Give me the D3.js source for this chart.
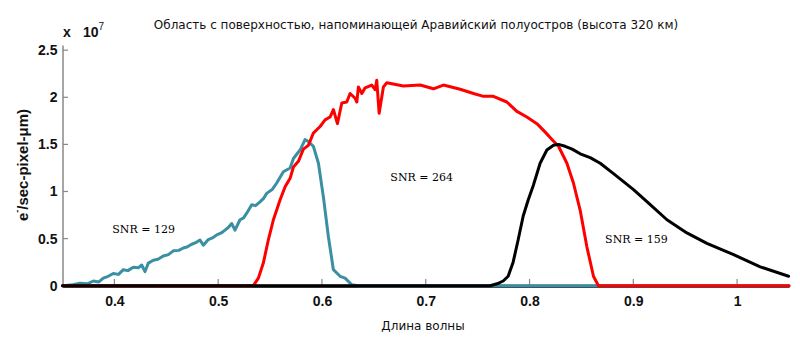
<!DOCTYPE html>
<html><head><meta charset="utf-8">
<script src="https://cdn.jsdelivr.net/npm/d3@7"></script>
<style>html,body{margin:0;padding:0;background:#fff;}svg{display:block;}</style>
</head><body>
<svg id="c" width="800" height="349"></svg>
<script>
// Wavelength (µm) and signal (×1e7 e-/sec-pixel-µm)
const blueX = [0.35,0.3600,0.3669,0.3740,0.3797,0.3850,0.3893,0.3940,0.3989,0.4040,0.4086,0.4130,0.4182,0.4230,0.4263,0.4295,0.4327,0.4375,0.4420,0.4471,0.4520,0.4568,0.4620,0.4664,0.4700,0.4745,0.4790,0.4825,0.4857,0.4905,0.4950,0.4986,0.5030,0.5066,0.5100,0.5130,0.5162,0.5210,0.5245,0.5275,0.5323,0.5360,0.5403,0.5440,0.5467,0.5520,0.5564,0.5628,0.5693,0.5725,0.5789,0.5837,0.5869,0.5917,0.5966,0.6014,0.6062,0.6110,0.6175,0.6223,0.6287,0.635,1.05];
const blueY = [0,0.01,0.025,0.02,0.05,0.04,0.08,0.10,0.13,0.12,0.17,0.16,0.195,0.19,0.22,0.15,0.24,0.27,0.28,0.315,0.33,0.37,0.375,0.40,0.41,0.44,0.46,0.485,0.43,0.49,0.51,0.54,0.56,0.59,0.62,0.66,0.59,0.70,0.72,0.77,0.86,0.85,0.89,0.93,0.98,1.02,1.09,1.21,1.25,1.35,1.44,1.55,1.53,1.48,1.30,0.94,0.52,0.17,0.10,0.08,0.01,0,0];

const redX = [0.35,0.5339,0.5387,0.5435,0.5484,0.5532,0.5596,0.5645,0.5693,0.5725,0.5773,0.5821,0.5869,0.5917,0.5982,0.6030,0.6078,0.6110,0.6149,0.6191,0.6239,0.6271,0.6319,0.6336,0.6351,0.6384,0.6416,0.6480,0.6512,0.6528,0.6551,0.6592,0.6625,0.6785,0.6946,0.7074,0.7170,0.7331,0.7460,0.7556,0.7652,0.7781,0.7878,0.7974,0.8071,0.8151,0.8218,0.8279,0.8360,0.8423,0.8488,0.8553,0.8616,0.8664,1.05];
const redY = [0,0,0.08,0.24,0.49,0.70,0.91,1.05,1.14,1.26,1.32,1.45,1.49,1.62,1.69,1.76,1.79,1.87,1.72,1.94,1.95,2.04,1.99,1.95,2.11,2.04,2.10,2.13,2.08,2.18,1.83,2.11,2.155,2.12,2.13,2.09,2.13,2.085,2.04,2.01,2.01,1.95,1.85,1.79,1.72,1.63,1.55,1.48,1.30,1.09,0.80,0.41,0.10,0,0];

const blackX = [0.35,0.762,0.7688,0.7746,0.7794,0.7842,0.7891,0.7939,0.7987,0.8038,0.8102,0.8167,0.8231,0.8279,0.8343,0.8411,0.8488,0.8584,0.8681,0.8809,0.9002,0.9163,0.9324,0.9516,0.9709,0.9966,1.0223,1.0496];
const blackY = [0,0,0.02,0.05,0.10,0.25,0.49,0.74,0.91,1.07,1.30,1.44,1.49,1.50,1.48,1.45,1.40,1.36,1.30,1.19,1.02,0.86,0.70,0.56,0.45,0.33,0.20,0.10];

const xTicks = [0.4,0.5,0.6,0.7,0.8,0.9,1.0];
const xTickLabels = ["0.4","0.5","0.6","0.7","0.8","0.9","1"];
const yTicks = [0,0.5,1,1.5,2,2.5];
const yTickLabels = ["0","0.5","1","1.5","2","2.5"];

const snrLabels = [
  {text:"SNR = 129", x:0.4282, y:0.595},
  {text:"SNR = 264", x:0.6961, y:1.145},
  {text:"SNR = 159", x:0.9030, y:0.495}
];
const titleText = "Область с поверхностью, напоминающей Аравийский полуостров (высота 320 км)";
const xLabelText = "Длина волны";

const svg = d3.select("#c");
const x = d3.scaleLinear().domain([0.35,1.05]).range([62.5,789]);
const y = d3.scaleLinear().domain([0,2.555]).range([285.7,45]);

// axes
const gx = svg.append("g").attr("transform","translate(0,285.7)")
  .call(d3.axisBottom(x).tickValues(xTicks).tickFormat((d,i)=>xTickLabels[i]).tickSize(0).tickPadding(10));
gx.select(".domain").attr("stroke","#000").attr("stroke-width",3);
gx.selectAll("text").attr("font-family","Liberation Sans, Arial, sans-serif").attr("font-weight","bold").attr("font-size",14).attr("fill","#111");
svg.append("g").selectAll("line").data(xTicks).join("line")
  .attr("x1",d=>x(d)).attr("x2",d=>x(d)).attr("y1",285).attr("y2",279)
  .attr("stroke","#888").attr("stroke-width",1.2);

const gy = svg.append("g").attr("transform","translate(62.5,0)")
  .call(d3.axisLeft(y).tickValues(yTicks).tickFormat((d,i)=>yTickLabels[i]).tickSize(0).tickPadding(5));
gy.select(".domain").attr("stroke","#888").attr("stroke-width",1.5);
gy.selectAll("text").attr("font-family","Liberation Sans, Arial, sans-serif").attr("font-weight","bold").attr("font-size",14).attr("fill","#111");
svg.append("g").selectAll("line").data(yTicks.filter(d=>d>0)).join("line")
  .attr("x1",63).attr("x2",68).attr("y1",d=>y(d)).attr("y2",d=>y(d))
  .attr("stroke","#888").attr("stroke-width",1.2);

// curves
const line = d3.line().x(d=>x(d[0])).y(d=>y(d[1]));
const series = [
  {xs:blueX, ys:blueY, color:"#3a8fa3"},
  {xs:redX, ys:redY, color:"#ff0000"},
  {xs:blackX, ys:blackY, color:"#000000"}
];
series.forEach(s=>{
  svg.append("path").datum(s.xs.map((v,i)=>[v,s.ys[i]]))
    .attr("d",line).attr("fill","none").attr("stroke",s.color)
    .attr("stroke-width",3).attr("stroke-linejoin","round").attr("stroke-linecap","round");
});

// SNR labels
svg.append("g").selectAll("text").data(snrLabels).join("text")
  .attr("x",d=>x(d.x)).attr("y",d=>y(d.y)).attr("text-anchor","middle").attr("dominant-baseline","central")
  .attr("font-family","DejaVu Serif, serif").attr("font-size",11).attr("fill","#000")
  .text(d=>d.text);

// title
svg.append("text").attr("x",416).attr("y",25).attr("text-anchor","middle").attr("dominant-baseline","central")
  .attr("font-family","DejaVu Sans, Verdana, sans-serif").attr("font-size",12).attr("fill","#111").text(titleText);

// x label
svg.append("text").attr("x",423).attr("y",326).attr("text-anchor","middle").attr("dominant-baseline","central")
  .attr("font-family","DejaVu Sans, Verdana, sans-serif").attr("font-size",12).attr("fill","#111").text(xLabelText);

// y label
const yl = svg.append("text").attr("transform","translate(22,165) rotate(-90)").attr("text-anchor","middle").attr("dominant-baseline","central")
  .attr("font-family","Liberation Sans, Arial, sans-serif").attr("font-weight","bold").attr("font-size",15).attr("fill","#111");
yl.append("tspan").text("e");
yl.append("tspan").attr("dy",-5).attr("font-size",9).text("-");
yl.append("tspan").attr("dy",5).text("/sec-pixel-μm)");

// exponent
const ex = svg.append("text").attr("x",63).attr("y",37)
  .attr("font-family","Liberation Sans, Arial, sans-serif").attr("font-weight","bold").attr("font-size",14).attr("fill","#111");
ex.append("tspan").text("x");
ex.append("tspan").attr("x",83).text("10");
ex.append("tspan").attr("dy",-7).attr("font-size",10).attr("font-weight","normal").text("7");
</script>
</body></html>
